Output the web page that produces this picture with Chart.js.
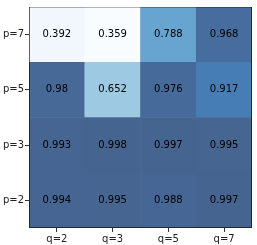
<!DOCTYPE html>
<html>
<head>
<meta charset="utf-8">
<script src="https://cdn.jsdelivr.net/npm/chart.js@4"></script>
<style>
  html, body { margin: 0; padding: 0; background: #fff; }
  canvas { display: block; }
</style>
</head>
<body>
<canvas id="myChart" width="257" height="245"></canvas>
<script>
// column and row labels (rows listed bottom to top)
var qLabels = ['q=2', 'q=3', 'q=5', 'q=7'];
var pLabels = ['p=2', 'p=3', 'p=5', 'p=7'];

// cell values per row
var p2Values = [0.994, 0.995, 0.988, 0.997];
var p3Values = [0.993, 0.998, 0.997, 0.995];
var p5Values = [0.98, 0.652, 0.976, 0.917];
var p7Values = [0.392, 0.359, 0.788, 0.968];

var rows = [p2Values, p3Values, p5Values, p7Values];

// matplotlib "Blues" stops
var blues = [
    [247, 251, 255], [222, 235, 247], [198, 219, 239], [158, 202, 225],
    [107, 174, 214], [66, 146, 198], [33, 113, 181], [8, 81, 156], [8, 48, 107]
];
var allValues = [].concat.apply([], rows);
var vmin = Math.min.apply(null, allValues);
var vmax = Math.max.apply(null, allValues);
var alpha = 0.75;

function cellColor(v) {
    var t = (v - vmin) / (vmax - vmin);
    var pos = t * (blues.length - 1);
    var i = Math.min(Math.floor(pos), blues.length - 2);
    var f = pos - i;
    var rgb = [0, 1, 2].map(function (k) {
        var c = blues[i][k] + (blues[i + 1][k] - blues[i][k]) * f;
        return Math.round(alpha * c + (1 - alpha) * 255);
    });
    return 'rgb(' + rgb.join(',') + ')';
}

// each row is one dataset of floating bars [row, row + 1]
var datasets = rows.map(function (vals, r) {
    return {
        label: pLabels[r],
        data: vals.map(function () { return [r, r + 1]; }),
        values: vals,
        backgroundColor: vals.map(cellColor),
        borderWidth: 0,
        barPercentage: 1,
        categoryPercentage: 1,
        grouped: false
    };
});

// write the value into every cell and draw the frame
var cellText = {
    id: 'cellText',
    afterDatasetsDraw: function (chart) {
        var c = chart.ctx;
        c.save();
        c.font = '10px "DejaVu Sans"';
        c.fillStyle = '#000';
        c.textAlign = 'center';
        c.textBaseline = 'middle';
        chart.data.datasets.forEach(function (ds, di) {
            chart.getDatasetMeta(di).data.forEach(function (el, j) {
                c.fillText(String(ds.values[j]), el.x, (el.y + el.base) / 2);
            });
        });
        var a = chart.chartArea;
        c.lineWidth = 1;
        c.strokeStyle = 'rgba(0,0,0,0.3)';
        c.beginPath();
        c.moveTo(a.left, a.top + 0.5);
        c.lineTo(a.right, a.top + 0.5);
        c.stroke();
        c.strokeStyle = 'rgba(0,0,0,0.6)';
        c.beginPath();
        c.moveTo(a.left + 0.5, a.top);
        c.lineTo(a.left + 0.5, a.bottom - 0.5);
        c.lineTo(a.right - 0.5, a.bottom - 0.5);
        c.lineTo(a.right - 0.5, a.top);
        c.stroke();
        c.restore();
    }
};

var ctx = document.getElementById('myChart').getContext('2d');
var myChart = new Chart(ctx, {
    type: 'bar',
    data: { labels: qLabels, datasets: datasets },
    options: {
        responsive: false,
        animation: false,
        layout: { padding: { top: 5, right: 5, left: 0, bottom: 0 } },
        plugins: { legend: { display: false }, tooltip: { enabled: false } },
        scales: {
            x: {
                grid: { drawOnChartArea: false, offset: false, tickLength: 4, color: '#333' },
                border: { display: false },
                ticks: { color: '#222', font: { family: 'DejaVu Sans', size: 10 }, padding: 1, maxRotation: 0 },
                afterFit: function (s) { s.height = 17; }
            },
            y: {
                min: 0,
                max: 4,
                grid: { drawOnChartArea: false, tickLength: 4, color: '#333' },
                border: { display: false },
                afterBuildTicks: function (s) {
                    s.ticks = pLabels.map(function (l, i) { return { value: i + 0.5 }; });
                },
                ticks: {
                    color: '#222',
                    font: { family: 'DejaVu Sans', size: 10 },
                    padding: 1,
                    callback: function (v) { return pLabels[Math.floor(v)]; }
                },
                afterFit: function (s) { s.width = 29; }
            }
        }
    },
    plugins: [cellText]
});
</script>
</body>
</html>
